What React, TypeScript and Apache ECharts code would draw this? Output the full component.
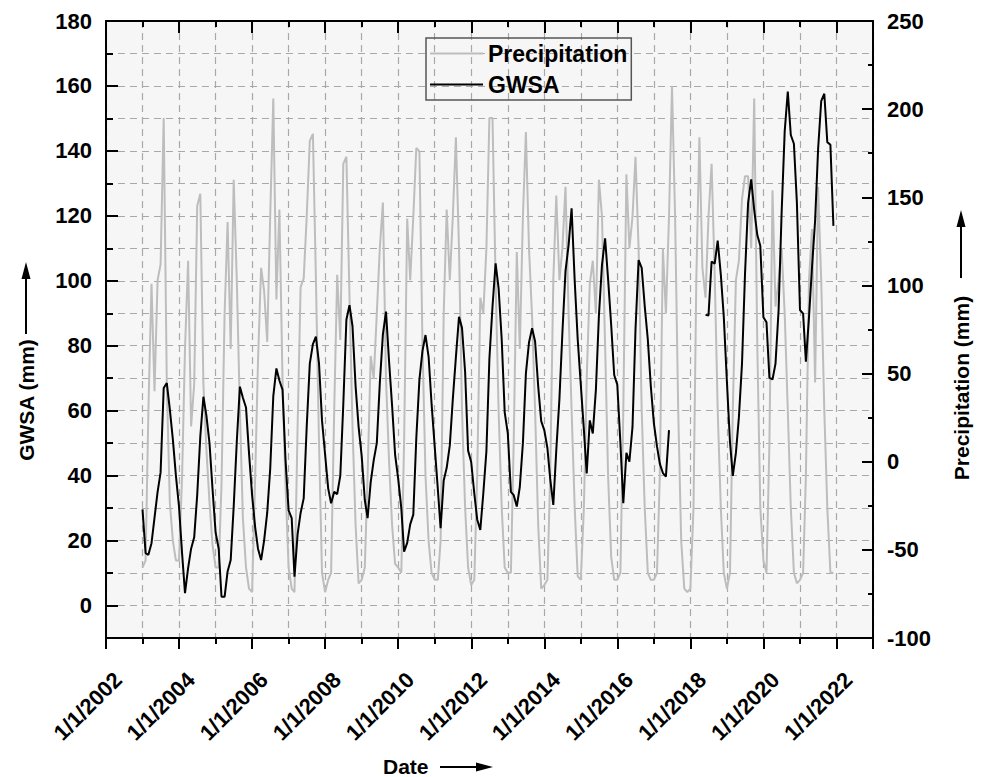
import React, { useEffect, useRef } from 'react';
import * as echarts from 'echarts';

const FONT = '"Liberation Sans", Arial, Helvetica, sans-serif';
const DAY = 86400000;
const YEAR = 365.25 * DAY;
const X_MIN = Date.UTC(2002, 0, 1);
const X_MAX = Date.UTC(2023, 0, 1);

// Left axis labelled ticks (GWSA, mm)
const GWSA_TICKS = [0, 20, 40, 60, 80, 100, 120, 140, 160, 180];

// GWSA, monthly, Jan 2003 - Jun 2017
const gwsaGrace = [
  29.6, 16.1, 15.6, 19.2, 27.0, 35.0, 41.0, 67.0, 68.5, 60.5, 51.0, 40.0,
  30.5, 16.0, 3.8, 11.5, 17.5, 21.0, 34.0, 52.0, 64.3, 58.5, 50.0, 36.0,
  22.5, 17.5, 2.7, 2.7, 10.5, 14.0, 30.5, 50.5, 67.4, 64.0, 61.0, 47.0,
  34.0, 24.0, 17.5, 14.0, 20.0, 28.5, 42.0, 64.5, 73.0, 69.3, 66.5, 45.0,
  29.3, 26.9, 8.9, 22.0, 28.5, 33.0, 55.0, 74.5, 80.5, 82.8, 74.6, 57.0,
  46.5, 36.0, 31.5, 35.0, 34.3, 40.0, 62.0, 88.0, 92.5, 86.0, 67.5, 55.0,
  46.0, 32.5, 26.9, 38.0, 44.7, 50.0, 68.4, 83.5, 90.5, 75.5, 61.5, 46.5,
  39.0, 30.0, 16.6, 19.3, 25.0, 28.0, 51.5, 69.5, 78.5, 83.3, 76.6, 62.0,
  49.0, 36.0, 23.8, 38.5, 42.4, 49.3, 63.5, 76.5, 88.9, 85.5, 72.0, 47.7,
  44.2, 34.5, 26.5, 23.3, 34.5, 47.5, 76.0, 92.0, 105.4, 97.7, 82.0, 59.5,
  53.0, 35.0, 34.0, 30.5, 36.5, 50.0, 71.5, 81.0, 85.4, 81.3, 67.5, 56.8,
  54.0, 48.5, 39.0, 31.0, 47.9, 63.5, 84.0, 103.0, 111.0, 122.3, 100.0, 82.0,
  68.0, 54.0, 40.7, 57.0, 53.0, 66.5, 89.2, 105.0, 113.1, 100.5, 86.3, 71.0,
  68.0, 50.0, 31.5, 47.0, 44.3, 55.0, 85.0, 106.4, 104.0, 92.3, 82.0, 67.6,
  56.1, 49.0, 43.7, 40.8, 39.7, 54.0,
];

// GWSA, monthly, Jun 2018 - Dec 2021
const gwsaFollowOn = [
  89.5, 89.3, 105.9, 105.3, 112.4, 102.0, 88.8,
  69.0, 50.3, 39.9, 47.0, 58.0, 74.5, 102.0, 124.0, 131.2, 121.8, 114.1, 110.8,
  88.8, 87.2, 70.2, 69.6, 74.5, 91.0, 120.7, 146.0, 158.3, 144.9, 142.2, 124.0,
  91.0, 89.9, 75.1, 88.8, 104.2, 118.5, 140.5, 155.3, 157.6, 142.7, 141.9, 116.9,
];

// Precipitation, monthly, Jan 2003 - Dec 2021
const precipitation = [
  -60, -56, 29, 101, 40, 103, 112, 195, 44, -23, -45, -56,
  -56, -8, 64, 114, 20, 44, 145, 152, 44, 7, -23, -47,
  -60, -60, -13, 84, 136, 64, 160, 103, 29, -32, -60, -72,
  -74, -8, 57, 110, 97, 68, 139, 206, 92, 143, 47, -13,
  -60, -72, -74, 20, 99, 104, 139, 182, 186, 104, 11, -63,
  -74, -67, -63, 29, 106, 69, 169, 173, 93, 20, -36, -69,
  -67, -60, -8, 60, 47, 84, 121, 147, 47, 1, -36, -58,
  -60, -63, 11, 138, 103, 139, 178, 176, 66, -8, -45, -63,
  -67, -67, -45, 84, 143, 103, 139, 184, 121, 29, -26, -60,
  -70, -67, -8, 93, 84, 121, 195, 195, 103, 29, -26, -60,
  -63, -63, 11, 119, 64, 139, 187, 121, 82, 29, -36, -72,
  -70, -67, -8, 103, 151, 103, 121, 156, 84, 29, -26, -65,
  -67, -26, 47, 101, 114, 84, 160, 139, 66, -8, -54, -67,
  -67, -63, 29, 163, 121, 139, 173, 121, 29, -26, -63, -67,
  -67, -63, -8, 121, 84, 139, 213, 139, 29, -45, -72, -74,
  -72, -26, 103, 184, 110, 93, 139, 169, 106, 29, -26, -63,
  -72, -63, 29, 103, 114, 149, 162, 162, 121, 206, 66, -26,
  -56, -63, 10, 154, 88, 103, 121, 84, 29, -26, -63, -69,
  -67, -63, -8, 103, 132, 45, 156, 103, 29, -26, -63, -63,
];

const monthly = (year: number, month: number, values: number[]) =>
  values.map((v, i) => [Date.UTC(year, month + i, 1), v]);

const gwsaData = [
  ...monthly(2003, 0, gwsaGrace),
  [Date.UTC(2017, 6, 1), null],
  ...monthly(2018, 5, gwsaFollowOn),
];
const precipData = monthly(2003, 0, precipitation);

const yearOf = (v: number) => 2002 + Math.round((v - X_MIN) / YEAR);

const GRID_LINE = { type: [7, 5], color: '#a9a9a9', width: 1.2 };
const BLACK = { color: '#000', width: 2 };
const LABEL = { fontFamily: FONT, fontSize: 22, fontWeight: 'bold' as const, color: '#000' };

const blankAxisLabel = { show: false };

const option = {
  animation: false,
  backgroundColor: '#ffffff',
  textStyle: { fontFamily: FONT },
  grid: {
    left: 106, top: 21, right: 109, bottom: 139,
    show: true, backgroundColor: '#f6f6f6', borderWidth: 0,
  },
  legend: {
    orient: 'vertical',
    left: 426, top: 38,
    padding: [4, 4, 4, 4],
    itemGap: 8,
    itemWidth: 53,
    itemHeight: 2,
    icon: 'rect',
    borderColor: '#555',
    borderWidth: 1.5,
    textStyle: { fontFamily: FONT, fontSize: 23, fontWeight: 'bold', color: '#000' },
    data: ['Precipitation', 'GWSA'],
  },
  xAxis: [
    {
      type: 'value', min: X_MIN, max: X_MAX, interval: YEAR, position: 'bottom',
      axisLine: { show: true, onZero: false, lineStyle: BLACK },
      axisTick: { show: true, length: 6, lineStyle: BLACK },
      axisLabel: {
        ...LABEL,
        rotate: 45,
        margin: 50,
        padding: [0, -17, 0, 0],
        formatter: (v: number) => {
          const y = yearOf(v);
          return y % 2 === 0 && y < 2023 ? `1/1/${y}` : '';
        },
      },
      splitLine: { show: true, lineStyle: GRID_LINE },
    },
    {
      type: 'value', min: X_MIN, max: X_MAX, interval: 2 * YEAR, position: 'bottom',
      axisLine: { show: false, onZero: false },
      axisTick: { show: true, length: 11, lineStyle: BLACK },
      axisLabel: blankAxisLabel,
      splitLine: { show: false },
    },
    {
      type: 'value', min: X_MIN, max: X_MAX, interval: YEAR, position: 'top',
      axisLine: { show: true, onZero: false, lineStyle: BLACK },
      axisTick: { show: true, inside: true, length: 6, lineStyle: BLACK },
      axisLabel: blankAxisLabel,
      splitLine: { show: false },
    },
    {
      type: 'value', min: X_MIN, max: X_MAX, interval: 2 * YEAR, position: 'top',
      axisLine: { show: false, onZero: false },
      axisTick: { show: true, inside: true, length: 12, lineStyle: BLACK },
      axisLabel: blankAxisLabel,
      splitLine: { show: false },
    },
  ],
  yAxis: [
    {
      type: 'value', min: -10, max: 180, interval: 10, position: 'left',
      axisLine: { show: true, onZero: false, lineStyle: BLACK },
      axisTick: { show: true, inside: true, length: 7, lineStyle: BLACK },
      axisLabel: {
        ...LABEL,
        margin: 14,
        formatter: (v: number) => (GWSA_TICKS.includes(v) ? String(v) : ''),
      },
      splitLine: { show: true, lineStyle: GRID_LINE },
    },
    {
      type: 'value', min: -100, max: 250, interval: 50, position: 'right',
      axisLine: { show: true, onZero: false, lineStyle: BLACK },
      axisTick: { show: true, inside: true, length: 11, lineStyle: BLACK },
      minorTick: { show: true, splitNumber: 2, length: 5, lineStyle: BLACK },
      axisLabel: { ...LABEL, margin: 14 },
      splitLine: { show: false },
    },
    {
      type: 'value', min: -10, max: 180, position: 'left',
      axisLine: { show: false, onZero: false },
      axisTick: { show: true, inside: true, length: 12, customValues: GWSA_TICKS, lineStyle: BLACK },
      axisLabel: { show: false, customValues: GWSA_TICKS },
      splitLine: { show: false },
    },
  ],
  series: [
    {
      name: 'Precipitation', type: 'line', xAxisIndex: 0, yAxisIndex: 1,
      data: precipData, symbol: 'none', showSymbol: false,
      lineStyle: { color: '#bdbdbd', width: 2 }, itemStyle: { color: '#bdbdbd' },
      z: 2,
    },
    {
      name: 'GWSA', type: 'line', xAxisIndex: 0, yAxisIndex: 0,
      data: gwsaData, symbol: 'none', showSymbol: false, connectNulls: false,
      lineStyle: { color: '#000', width: 2 }, itemStyle: { color: '#000' },
      z: 3,
    },
  ],
  graphic: [
    // left axis title with arrow
    {
      type: 'text', x: 26, y: 400, rotation: Math.PI / 2,
      style: { text: 'GWSA (mm)', font: `bold 21px ${FONT}`, fill: '#000', align: 'center', verticalAlign: 'middle' },
    },
    { type: 'line', shape: { x1: 26, y1: 334, x2: 26, y2: 274 }, style: { stroke: '#000', lineWidth: 2 } },
    { type: 'polygon', shape: { points: [[26, 262], [21.5, 279], [30.5, 279]] }, style: { fill: '#000' } },
    // right axis title with arrow
    {
      type: 'text', x: 961, y: 388, rotation: Math.PI / 2,
      style: { text: 'Precipitation (mm)', font: `bold 21px ${FONT}`, fill: '#000', align: 'center', verticalAlign: 'middle' },
    },
    { type: 'line', shape: { x1: 961, y1: 278, x2: 961, y2: 222 }, style: { stroke: '#000', lineWidth: 2 } },
    { type: 'polygon', shape: { points: [[961, 210], [956.5, 227], [965.5, 227]] }, style: { fill: '#000' } },
    // bottom axis title with arrow
    {
      type: 'text', x: 383, y: 766,
      style: { text: 'Date', font: `bold 21px ${FONT}`, fill: '#000', align: 'left', verticalAlign: 'middle' },
    },
    { type: 'line', shape: { x1: 440, y1: 767, x2: 480, y2: 767 }, style: { stroke: '#000', lineWidth: 2 } },
    { type: 'polygon', shape: { points: [[493, 767], [476, 762.5], [476, 771.5]] }, style: { fill: '#000' } },
  ],
};

export default function App() {
  const ref = useRef<HTMLDivElement>(null);
  useEffect(() => {
    if (!ref.current) return;
    const chart = echarts.init(ref.current, null, { renderer: 'svg' });
    chart.setOption(option as any);
    return () => chart.dispose();
  }, []);
  return (
    <div
      ref={ref}
      style={{ position: 'fixed', left: 0, top: 0, width: 982, height: 777, background: '#fff' }}
    />
  );
}
